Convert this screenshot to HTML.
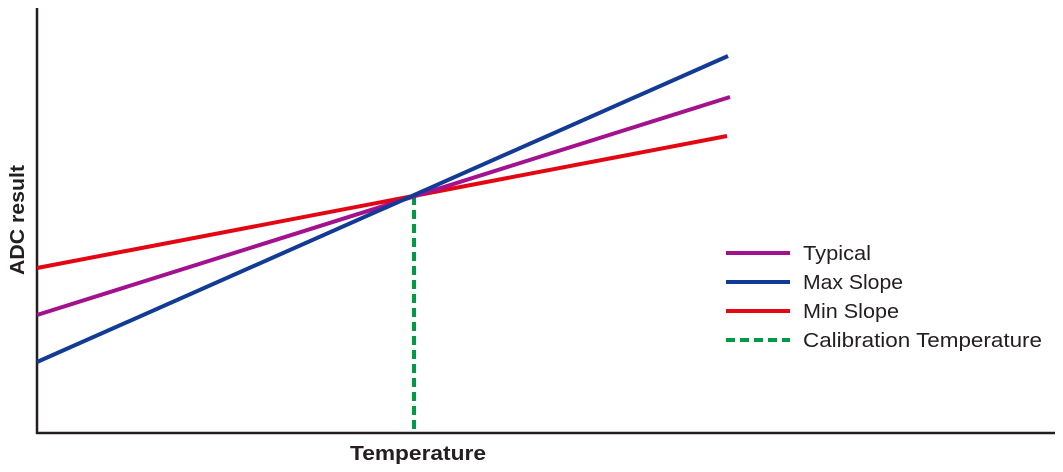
<!DOCTYPE html>
<html><head><style>body{margin:0;background:#fff}</style></head><body>
<svg width="1063" height="472" xmlns="http://www.w3.org/2000/svg" style="display:block">
<line x1="37" y1="8" x2="37" y2="434" stroke="#231f20" stroke-width="2.5"/>
<line x1="36" y1="433" x2="1055" y2="433" stroke="#231f20" stroke-width="2.5"/>
<line x1="414" y1="196" x2="414" y2="433" stroke="#009a44" stroke-width="4" stroke-dasharray="9,5"/>
<line x1="37" y1="268" x2="727" y2="136" stroke="#e30613" stroke-width="4"/>
<line x1="37" y1="315" x2="730" y2="97" stroke="#a3118f" stroke-width="4"/>
<line x1="37" y1="362" x2="728" y2="56" stroke="#123b95" stroke-width="4"/>
<g font-family="Liberation Sans, sans-serif" font-size="20" fill="#231f20">
<line x1="726" y1="253" x2="790" y2="253" stroke="#a3118f" stroke-width="4"/>
<text x="803" y="260" textLength="68" lengthAdjust="spacingAndGlyphs">Typical</text>
<line x1="726" y1="282" x2="790" y2="282" stroke="#123b95" stroke-width="4"/>
<text x="803" y="289" textLength="100" lengthAdjust="spacingAndGlyphs">Max Slope</text>
<line x1="726" y1="311" x2="790" y2="311" stroke="#e30613" stroke-width="4"/>
<text x="803" y="318" textLength="96" lengthAdjust="spacingAndGlyphs">Min Slope</text>
<line x1="726" y1="340" x2="790" y2="340" stroke="#009a44" stroke-width="4" stroke-dasharray="9,5"/>
<text x="803" y="347" textLength="239" lengthAdjust="spacingAndGlyphs">Calibration Temperature</text>
<text x="350" y="460" font-weight="bold" textLength="136" lengthAdjust="spacingAndGlyphs">Temperature</text>
<text transform="translate(24,275) rotate(-90)" font-weight="bold" textLength="110" lengthAdjust="spacingAndGlyphs">ADC result</text>
</g>
</svg>
</body></html>
